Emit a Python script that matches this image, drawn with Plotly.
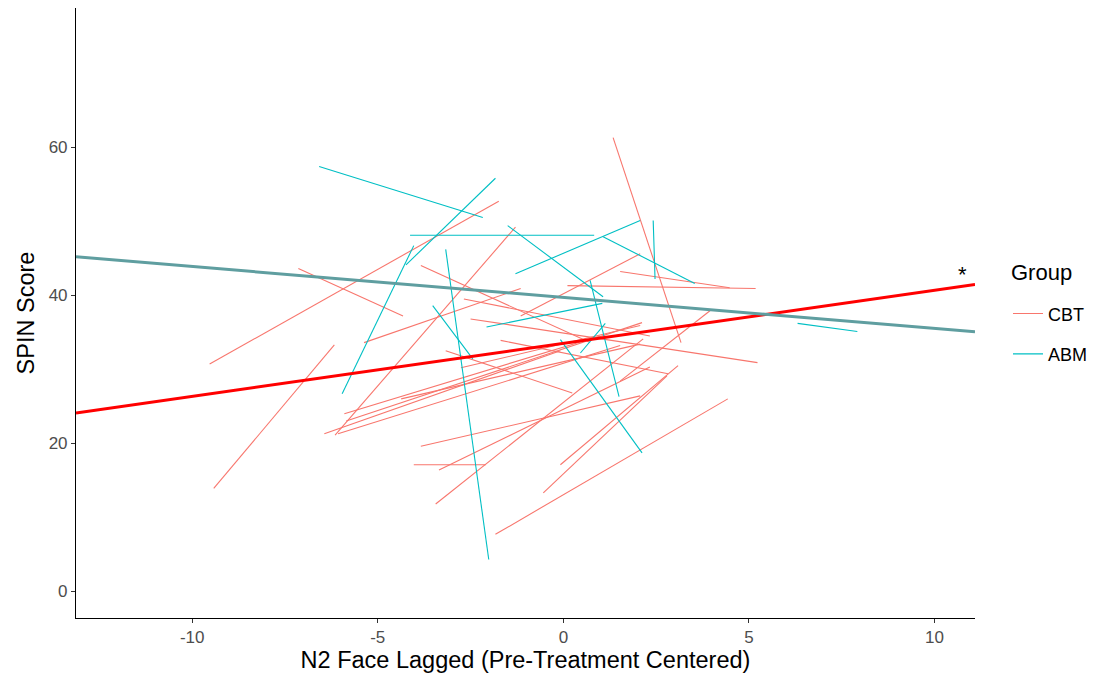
import plotly.graph_objects as go

# ---- data ----
# CBT subjects: start / end points of each subject line
cbt_x_start = [-9.53, -7.14, 1.34, -9.42, -5.37, -6.15, -3.84, 0.11, 1.53, -1.15,
               -2.50, -2.68, -5.90, -6.44, -6.07, -5.85, -4.03, -3.84, -3.35, -3.44,
               -0.08, -0.54, -1.83, -3.17, -1.69, 1.53, -4.37, -2.76]
cbt_y_start = [30.7, 43.6, 61.3, 13.9, 33.6, 21.1, 44.0, 41.3, 43.2, 37.2,
               36.8, 39.5, 24.0, 21.3, 21.3, 23.0, 17.1, 19.6, 16.4, 11.8,
               17.1, 13.3, 7.7, 32.5, 33.9, 28.4, 26.0, 30.2]
cbt_x_end = [-1.74, -4.32, 3.17, -6.17, -1.15, -1.29, 0.72, 5.18, 4.48, 2.07,
             5.23, 2.33, 0.99, -0.08, 1.53, 2.12, -2.09, 2.07, 2.33, 2.15,
             3.09, 2.79, 4.43, 0.24, 2.82, 3.95, 2.07, 2.07]
cbt_y_end = [52.7, 37.2, 33.6, 33.3, 40.9, 49.2, 33.6, 40.9, 41.0, 45.6,
             30.9, 34.5, 34.5, 32.5, 33.2, 36.3, 17.1, 26.4, 30.3, 34.1,
             30.5, 29.1, 26.0, 26.8, 29.4, 37.9, 33.4, 35.9]

# ABM subjects
abm_x_start = [-6.58, -1.83, -4.03, -4.13, -1.50, -1.29, 1.07, 2.42, -3.17, -3.52,
               -2.07, 0.72, -0.08, 0.46, 6.31]
abm_y_start = [57.4, 55.8, 46.7, 48.1, 49.4, 42.9, 47.9, 50.1, 46.2, 38.6,
               35.7, 42.0, 34.0, 32.2, 36.2]
abm_x_end = [-2.17, -4.24, -5.96, 0.83, 1.07, 2.07, 3.54, 2.47, -2.01, -2.44,
             1.05, 1.50, 2.12, 1.13, 7.92]
abm_y_end = [50.5, 44.1, 26.7, 48.1, 39.8, 50.1, 41.6, 42.2, 4.3, 31.4,
             38.9, 26.3, 18.7, 36.2, 35.1]

# group-level fitted lines (intercept, slope)
cbt_fit = (33.5, 0.716)
abm_fit = (39.7, -0.418)

x_range = [-13.13, 11.09]
y_range = [-3.6, 78.8]
x_ticks = [-10, -5, 0, 5, 10]
y_ticks = [0, 20, 40, 60]

groups = ["CBT", "ABM"]
group_colors = {"CBT": "#F8766D", "ABM": "#00BFC4"}
fit_colors = {"CBT": "#FF0000", "ABM": "#5F9EA0"}

FONT = "Liberation Sans, Arial, sans-serif"


def segs(xs, ys, xe, ye):
    X, Y = [], []
    for a, b, c, d in zip(xs, ys, xe, ye):
        X += [a, c, None]
        Y += [b, d, None]
    return X, Y


fig = go.Figure()

cx, cy = segs(cbt_x_start, cbt_y_start, cbt_x_end, cbt_y_end)
ax, ay = segs(abm_x_start, abm_y_start, abm_x_end, abm_y_end)

fig.add_trace(go.Scatter(x=cx, y=cy, mode="lines", name="CBT", legendgroup="CBT",
                         line=dict(color=group_colors["CBT"], width=1.1),
                         hoverinfo="skip"))
fig.add_trace(go.Scatter(x=ax, y=ay, mode="lines", name="ABM", legendgroup="ABM",
                         line=dict(color=group_colors["ABM"], width=1.1),
                         hoverinfo="skip"))

for g, (b0, b1) in (("CBT", cbt_fit), ("ABM", abm_fit)):
    fig.add_trace(go.Scatter(x=x_range, y=[b0 + b1 * x_range[0], b0 + b1 * x_range[1]],
                             mode="lines", showlegend=False,
                             line=dict(color=fit_colors[g], width=3)))

fig.add_annotation(x=10.74, y=42.8, text="*", showarrow=False,
                   font=dict(family=FONT, size=22, color="black"))

# legend title as text
fig.add_annotation(xref="paper", yref="paper", x=1.038, y=0.5656,
                   xanchor="left", yanchor="middle", text="Group", showarrow=False,
                   font=dict(family=FONT, size=22, color="black"))

axis_common = dict(showline=True, linecolor="black", linewidth=1.1, mirror=False,
                   ticks="outside", ticklen=4, tickcolor="#333333", tickwidth=1,
                   showgrid=False, zeroline=False,
                   tickfont=dict(family=FONT, size=17, color="#4D4D4D"))

fig.update_layout(
    width=1102, height=684,
    margin=dict(l=76, r=127, t=8, b=66),
    paper_bgcolor="white", plot_bgcolor="white",
    font=dict(family=FONT, color="black"),
    xaxis=dict(range=x_range, tickvals=x_ticks, ticktext=[str(v) for v in x_ticks],
               title=dict(text="N2 Face Lagged (Pre-Treatment Centered)",
                          font=dict(family=FONT, size=23.5, color="black"), standoff=5),
               **axis_common),
    yaxis=dict(range=y_range, tickvals=y_ticks, ticktext=[str(v) for v in y_ticks],
               title=dict(text="SPIN Score",
                          font=dict(family=FONT, size=23.5, color="black"), standoff=7),
               **axis_common),
    legend=dict(font=dict(family=FONT, size=18, color="black"),
                x=1.0367, xanchor="left", y=0.529, yanchor="top",
                itemwidth=30, tracegroupgap=14, bgcolor="rgba(0,0,0,0)"),
    showlegend=True,
)

fig.write_html("out.html")
